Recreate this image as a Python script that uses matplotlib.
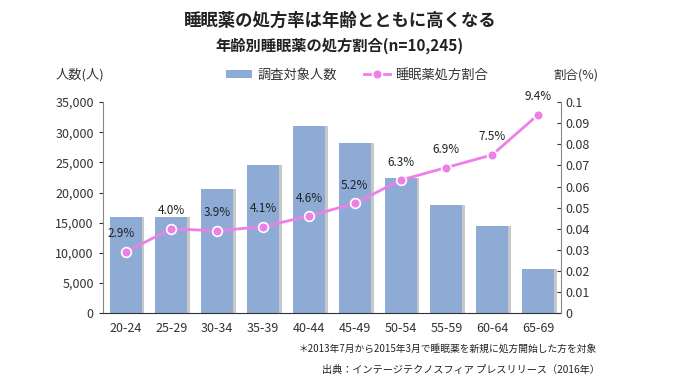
import numpy as np
import matplotlib.pyplot as plt

plt.rcParams['font.family'] = ['Noto Sans CJK JP', 'DejaVu Sans']

# data
ages = ['20-24', '25-29', '30-34', '35-39', '40-44', '45-49', '50-54', '55-59', '60-64', '65-69']
counts = [16000, 16000, 20600, 24500, 31100, 28200, 22400, 17900, 14400, 7300]
rates = [0.029, 0.040, 0.039, 0.041, 0.046, 0.052, 0.063, 0.069, 0.075, 0.094]
rate_labels = ['2.9%', '4.0%', '3.9%', '4.1%', '4.6%', '5.2%', '6.3%', '6.9%', '7.5%', '9.4%']

bar_color = '#8eabd6'
line_color = '#ee7ee8'
text_color = '#333333'

fig = plt.figure(figsize=(6.8, 3.91), dpi=100)
ax = fig.add_axes([0.151, 0.199, 0.674, 0.540])
x = np.arange(len(ages))

# shadow behind bars
ax.bar(x + 0.06, counts, width=0.7, color='#c8c8c8', zorder=1)
ax.bar(x, counts, width=0.7, color=bar_color, zorder=2, label='調査対象人数')
ax.set_xlim(-0.5, len(ages) - 0.5)
ax.set_ylim(0, 35000)
ax.set_yticks(np.arange(0, 35001, 5000))
ax.set_yticklabels([f'{v:,}' for v in range(0, 35001, 5000)])
ax.set_xticks(x)
ax.set_xticklabels(ages)
ax.tick_params(axis='both', labelsize=9, colors=text_color, length=3)
ax.tick_params(axis='x', length=0, pad=6)
ax.spines['top'].set_visible(False)
ax.spines['right'].set_visible(False)
ax.spines['left'].set_color('#888888')
ax.spines['bottom'].set_color('#333333')

ax2 = ax.twinx()
ax2.plot(x, rates, color=line_color, lw=2, marker='o', ms=7,
         mfc=line_color, mec='white', mew=1.2, zorder=5, label='睡眠薬処方割合')
ax2.set_ylim(0, 0.1)
ax2.set_yticks(np.arange(0, 0.101, 0.01))
ax2.set_yticklabels(['0'] + [f'{v/100:g}' for v in range(1, 11)])
ax2.tick_params(axis='y', labelsize=9, colors=text_color, length=3, direction='in')
ax2.spines['top'].set_visible(False)
ax2.spines['left'].set_visible(False)
ax2.spines['bottom'].set_visible(False)
ax2.spines['right'].set_color('#888888')

for xi, r, lab in zip(x, rates, rate_labels):
    dx = -3 if xi == 0 else 0
    ax2.annotate(lab, (xi, r), xytext=(dx, 13), textcoords='offset points',
                 ha='center', va='center', fontsize=8.5, color='#222222')

fig.text(0.5, 0.948, '睡眠薬の処方率は年齢とともに高くなる', ha='center', va='center',
         fontsize=12.5, fontweight='bold', color='#222222')
fig.text(0.5, 0.882, '年齢別睡眠薬の処方割合(n=10,245)', ha='center', va='center',
         fontsize=11, fontweight='bold', color='#222222')
fig.text(0.117, 0.808, '人数(人)', ha='center', va='center', fontsize=9.5, color=text_color)
fig.text(0.847, 0.808, '割合(%)', ha='center', va='center', fontsize=9, color=text_color)

h1, l1 = ax.get_legend_handles_labels()
h2, l2 = ax2.get_legend_handles_labels()
fig.legend(h1 + h2, l1 + l2, loc='center', bbox_to_anchor=(0.525, 0.808), ncol=2,
           frameon=False, fontsize=9.5, handlelength=2.0, handleheight=0.5,
           columnspacing=2.0, handletextpad=0.4, labelcolor=text_color)

fig.text(0.878, 0.108, '＊2013年7月から2015年3月で睡眠薬を新規に処方開始した方を対象',
         ha='right', va='center', fontsize=7, color='#222222')
fig.text(0.882, 0.055, '出典：インテージテクノスフィア プレスリリース（2016年）',
         ha='right', va='center', fontsize=7.3, color='#222222')

fig.savefig('out.png', dpi=100, facecolor='white')
